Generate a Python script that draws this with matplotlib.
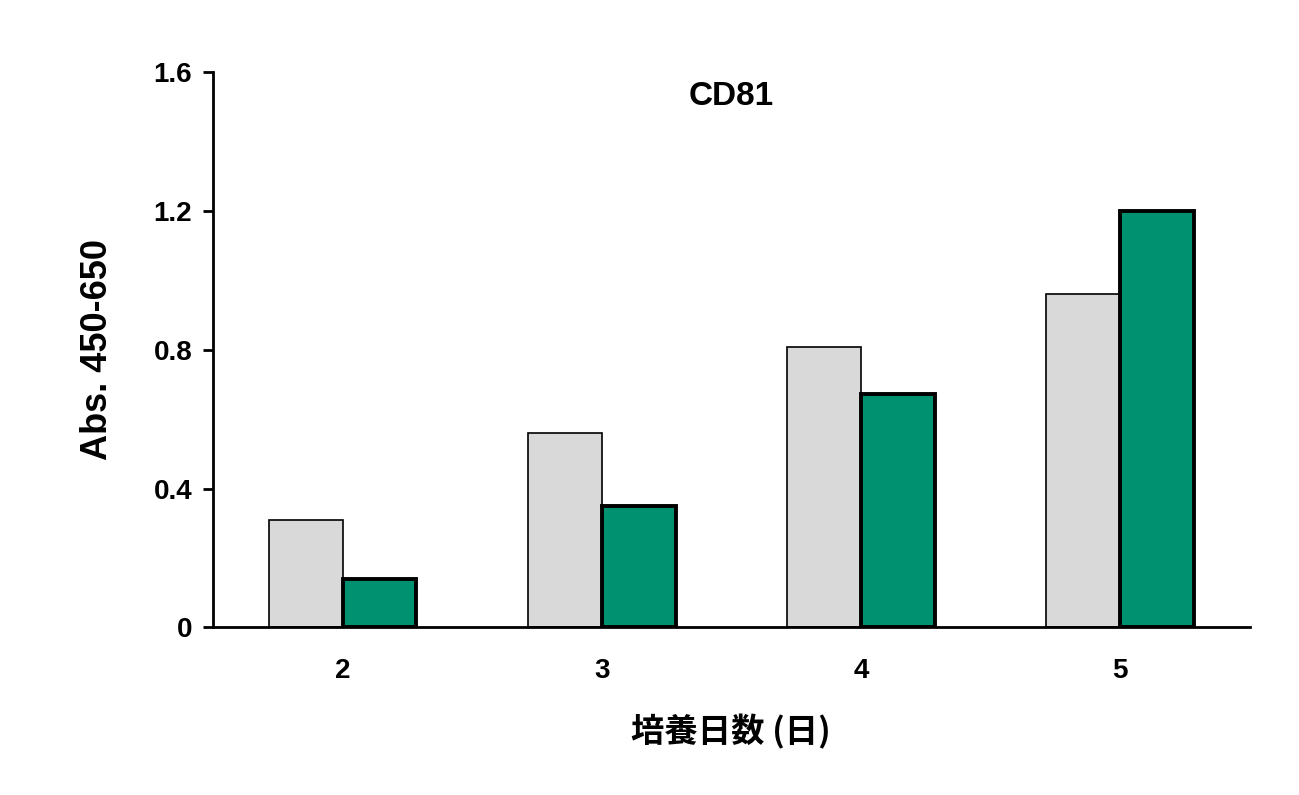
import matplotlib
matplotlib.use("Agg")
import matplotlib.pyplot as plt
import numpy as np

plt.rcParams['font.family'] = ['Liberation Sans', 'Noto Sans CJK JP', 'DejaVu Sans']
plt.rcParams['font.weight'] = 'bold'

days = ["2", "3", "4", "5"]
control = [0.308, 0.561, 0.809, 0.961]
treated = [0.138, 0.351, 0.673, 1.200]

fig = plt.figure(figsize=(12.99, 7.95), dpi=100)
ax = fig.add_axes([0.164, 0.211, 0.798, 0.698])
x = np.arange(len(days))
w = 0.285
ax.bar(x - w/2, control, w, color='#d9d9d9', edgecolor='black', linewidth=1.2)
ax.bar(x + w/2, treated, w, color='#009270', edgecolor='black', linewidth=2.8)
ax.set_xlim(-0.5, 3.5)
ax.set_ylim(0, 1.6)
ax.set_yticks([0, 0.4, 0.8, 1.2, 1.6])
ax.set_yticklabels(['0', '0.4', '0.8', '1.2', '1.6'], fontsize=20, fontweight='bold')
ax.set_xticks(x)
ax.set_xticklabels(days, fontsize=20, fontweight='bold')
ax.tick_params(axis='x', length=0, pad=22)
ax.tick_params(axis='y', direction='out', length=7, width=2, pad=8)
for s in ['top', 'right']:
    ax.spines[s].set_visible(False)
for s in ['left', 'bottom']:
    ax.spines[s].set_linewidth(2)
ax.set_ylabel('Abs. 450-650', fontsize=26, fontweight='bold', labelpad=28)
ax.set_xlabel('培養日数 (日)', fontsize=24, fontweight='bold', labelpad=22,
              family=['Noto Sans CJK JP', 'Liberation Sans'])
ax.text(0.5, 0.985, 'CD81', transform=ax.transAxes, ha='center', va='top',
        fontsize=24, fontweight='bold')
fig.savefig('out.png', dpi=100)
